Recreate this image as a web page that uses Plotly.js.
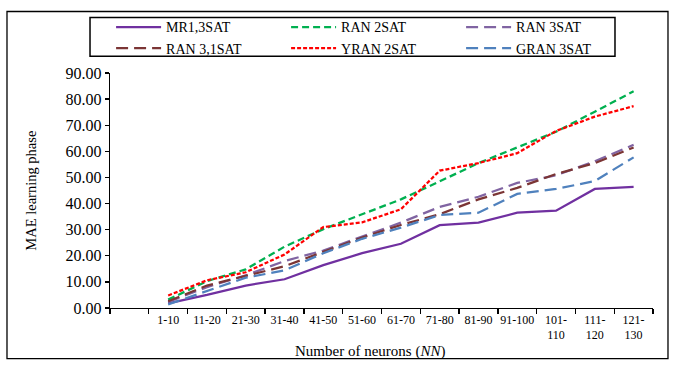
<!DOCTYPE html>
<html>
<head>
<meta charset="utf-8">
<script src="https://cdn.plot.ly/plotly-3.0.1.min.js"></script>
<style>
    html, body { margin: 0; padding: 0; background: #fff; }
    #chart { width: 681px; height: 366px; }
</style>
</head>
<body>
<div id="chart"></div>
<script>
'use strict';

// categories (first slot is left empty, as in the original)
const categories = [' ', '1-10', '11-20', '21-30', '31-40', '41-50', '51-60', '61-70',
    '71-80', '81-90', '91-100', '101-<br>110', '111-<br>120', '121-<br>130'];
const xLabels = categories.slice(1);

// series values, MAE learning phase
const mr13sat = [1.8, 5.0, 8.6, 11.0, 16.4, 21.0, 24.6, 31.7, 32.7, 36.5, 37.3, 45.6, 46.4];
const ran2sat = [3.2, 10.3, 14.8, 23.5, 30.2, 35.8, 41.6, 48.5, 55.5, 61.5, 67.5, 75.2, 83.0];
const ran3sat = [2.3, 8.0, 12.5, 18.0, 22.0, 27.5, 32.7, 38.7, 42.6, 47.9, 50.8, 56.2, 62.5];
const ran31sat = [2.6, 8.6, 12.3, 16.0, 21.5, 27.0, 31.8, 35.9, 41.6, 46.0, 51.3, 55.5, 61.5];
const yran2sat = [4.8, 10.6, 13.7, 20.5, 31.0, 32.8, 37.8, 52.6, 55.5, 59.3, 67.8, 73.3, 77.3];
const gran3sat = [1.4, 6.6, 11.6, 14.4, 21.0, 26.5, 30.8, 35.6, 36.5, 43.7, 45.6, 48.6, 57.7];

const seriesNames = ['MR1,3SAT', 'RAN 2SAT', 'RAN 3SAT', 'RAN 3,1SAT', 'YRAN 2SAT', 'GRAN 3SAT'];
const seriesValues = [mr13sat, ran2sat, ran3sat, ran31sat, yran2sat, gran3sat];
const seriesColors = ['#7030A0', '#00B050', '#8064A2', '#7B3535', '#FF0000', '#4F81BD'];
const seriesDash = ['solid', '7px,4px', '12px,6px', '12px,6px', '4px,2px', '12px,6px'];

const font = 'Liberation Serif, Times New Roman, serif';

const data = seriesNames.map((name, i) => ({
    x: xLabels,
    y: seriesValues[i],
    name: name,
    type: 'scatter',
    mode: 'lines',
    line: { color: seriesColors[i], width: 2.25, dash: seriesDash[i] },
}));

const layout = {
    width: 681,
    height: 366,
    margin: { l: 110, r: 28, t: 71, b: 58 },
    paper_bgcolor: '#fff',
    plot_bgcolor: '#fff',
    font: { family: font, color: '#000', size: 15 },
    showlegend: true,
    legend: {
        orientation: 'h',
        x: 0.002,
        xanchor: 'left',
        y: 1.262,
        yanchor: 'top',
        entrywidth: 115,
        itemwidth: 45,
        borderwidth: 0,
        bgcolor: 'rgba(0,0,0,0)',
        font: { family: font, size: 14, color: '#000' },
        tracegroupgap: 0,
    },
    xaxis: {
        type: 'category',
        categoryorder: 'array',
        categoryarray: categories,
        range: [-0.5, categories.length - 0.5],
        tickson: 'boundaries',
        ticks: 'outside',
        ticklen: 5,
        tickcolor: '#000',
        tickwidth: 1.3,
        showline: true,
        linecolor: '#000',
        linewidth: 1.3,
        showgrid: false,
        zeroline: false,
        tickangle: 0,
        tickfont: { family: font, size: 12, color: '#000' },
        fixedrange: true,
    },
    yaxis: {
        range: [0, 90],
        dtick: 10,
        tickformat: '.2f',
        ticks: 'outside',
        ticklen: 4,
        tickcolor: '#000',
        tickwidth: 1.3,
        showline: true,
        linecolor: '#000',
        linewidth: 1.3,
        showgrid: false,
        zeroline: false,
        tickfont: { family: font, size: 16, color: '#000' },
        fixedrange: true,
    },
    annotations: [
        {
            text: 'MAE learning phase',
            textangle: -90,
            xref: 'paper', yref: 'paper',
            x: -0.147, y: 0.5,
            xanchor: 'center', yanchor: 'middle',
            showarrow: false,
            font: { family: font, size: 14.5, color: '#000' },
        },
        {
            text: 'Number of neurons (<i>NN</i>)',
            xref: 'paper', yref: 'paper',
            x: 0.479, y: -0.185,
            xanchor: 'center', yanchor: 'middle',
            showarrow: false,
            font: { family: font, size: 15, color: '#000' },
        },
    ],
    shapes: [
        // outer chart frame
        {
            type: 'rect',
            xref: 'paper', yref: 'paper',
            x0: -0.1897, x1: 1.0276, y0: -0.2152, y1: 1.2616,
            line: { color: '#000', width: 1.3 },
            layer: 'below',
        },
        // legend frame
        {
            type: 'rect',
            xref: 'paper', yref: 'paper',
            x0: -0.0368, x1: 0.930, y0: 1.0717, y1: 1.2363,
            line: { color: '#000', width: 1.5 },
            fillcolor: '#fff',
            layer: 'below',
        },
    ],
};

Plotly.newPlot('chart', data, layout, { displayModeBar: false, staticPlot: true });
</script>
</body>
</html>
